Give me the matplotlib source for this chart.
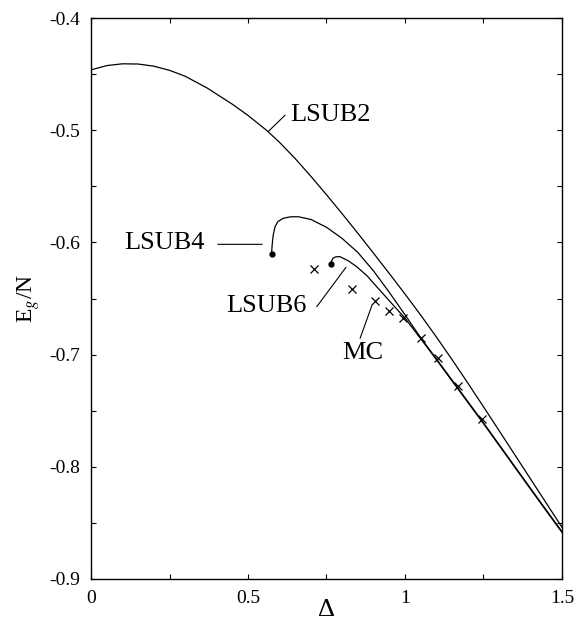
import matplotlib.pyplot as plt
from matplotlib.ticker import MultipleLocator, FormatStrFormatter

plt.rcParams["font.family"] = ["Liberation Serif", "DejaVu Serif"]
plt.rcParams["mathtext.fontset"] = "stix"
plt.rcParams["axes.unicode_minus"] = False

# 数据
lsub2_x = [0.0, 0.05, 0.10, 0.15, 0.20, 0.25, 0.30, 0.37, 0.45, 0.50, 0.56,
           0.60, 0.65, 0.70, 0.75, 0.80, 0.85, 0.90, 0.95, 1.00, 1.05, 1.10,
           1.15, 1.20, 1.25, 1.30, 1.35, 1.40, 1.45, 1.50]
lsub2_y = [-0.4462, -0.4424, -0.4408, -0.4410, -0.4429, -0.4466, -0.4519,
           -0.4624, -0.4768, -0.4868, -0.5003, -0.5107, -0.5252, -0.5410,
           -0.5575, -0.5745, -0.5919, -0.6097, -0.6277, -0.6460, -0.6648,
           -0.6843, -0.7045, -0.7253, -0.7465, -0.7679, -0.7894, -0.8109,
           -0.8324, -0.8539]

lsub4_x = [0.575, 0.577, 0.580, 0.586, 0.595, 0.612, 0.635, 0.660, 0.700,
           0.750, 0.800, 0.850, 0.900, 0.950, 1.000, 1.050, 1.100, 1.150,
           1.200, 1.250, 1.300, 1.350, 1.400, 1.450, 1.500]
lsub4_y = [-0.6103, -0.6020, -0.5940, -0.5860, -0.5815, -0.5785, -0.5772,
           -0.5771, -0.5795, -0.5865, -0.5965, -0.6090, -0.6255, -0.6445,
           -0.6645, -0.6850, -0.7038, -0.7228, -0.7418, -0.7608, -0.7803,
           -0.7998, -0.8193, -0.8386, -0.8578]

lsub6_x = [0.763, 0.766, 0.771, 0.780, 0.793, 0.820, 0.846, 0.880, 0.910,
           0.950, 1.000, 1.050, 1.100, 1.150, 1.200, 1.250, 1.300, 1.350,
           1.400, 1.450, 1.500]
lsub6_y = [-0.6195, -0.6165, -0.6140, -0.6128, -0.6127, -0.6165, -0.6216,
           -0.6300, -0.6395, -0.6520, -0.6675, -0.6858, -0.7045, -0.7235,
           -0.7425, -0.7615, -0.7810, -0.8005, -0.8200, -0.8393, -0.8585]

mc_x = [0.711, 0.832, 0.905, 0.950, 0.995, 1.050, 1.106, 1.170, 1.244]
mc_y = [-0.6240, -0.6412, -0.6520, -0.6610, -0.6677, -0.6855, -0.7033,
        -0.7277, -0.7577]

# curve labels: text, text position, alignment, leader line (from, to)
labels = [
    ("LSUB2", (0.634, -0.4862), "left", (0.618, -0.4866), (0.565, -0.5010)),
    ("LSUB4", (0.363, -0.6005), "right", (0.404, -0.6017), (0.545, -0.6017)),
    ("LSUB6", (0.687, -0.6567), "right", (0.719, -0.6573), (0.812, -0.6222)),
    ("MC", (0.865, -0.6988), "center", (0.857, -0.6855), (0.894, -0.6567)),
]

fig = plt.figure(figsize=(5.79, 6.26), dpi=100)
ax = fig.add_axes([0.1572, 0.0751, 0.8134, 0.8961])

ax.plot(lsub2_x, lsub2_y, color="black", lw=0.9)
ax.plot(lsub4_x, lsub4_y, color="black", lw=0.9)
ax.plot(lsub6_x, lsub6_y, color="black", lw=0.9)
ax.plot(lsub4_x[0], lsub4_y[0], "o", color="black", ms=3.5)
ax.plot(lsub6_x[0], lsub6_y[0], "o", color="black", ms=3.5)
ax.plot(mc_x, mc_y, "x", color="black", ms=6, mew=0.9)

for txt, pos, ha, p0, p1 in labels:
    ax.text(pos[0], pos[1], txt, fontsize=19, ha=ha, va="center")
    ax.annotate("", xy=p1, xytext=p0,
                arrowprops=dict(arrowstyle="-", lw=0.8, color="black",
                                shrinkA=0, shrinkB=0))

ax.set_xlim(0, 1.5)
ax.set_ylim(-0.9, -0.4)
ax.xaxis.set_major_locator(MultipleLocator(0.5))
ax.xaxis.set_minor_locator(MultipleLocator(0.25))
ax.yaxis.set_major_locator(MultipleLocator(0.1))
ax.yaxis.set_minor_locator(MultipleLocator(0.05))
ax.xaxis.set_major_formatter(FormatStrFormatter("%g"))
ax.yaxis.set_major_formatter(FormatStrFormatter("%g"))
ax.tick_params(which="both", direction="in", top=True, right=True,
               length=3.5, width=0.8, labelsize=14, pad=8)
for s in ax.spines.values():
    s.set_linewidth(1.0)

ax.set_xlabel("Δ", fontsize=19)
ax.xaxis.set_label_coords(0.5, -0.036)
ax.set_ylabel(r"E$_g$/N", fontsize=17, labelpad=5)

fig.savefig("out.png", dpi=100)
